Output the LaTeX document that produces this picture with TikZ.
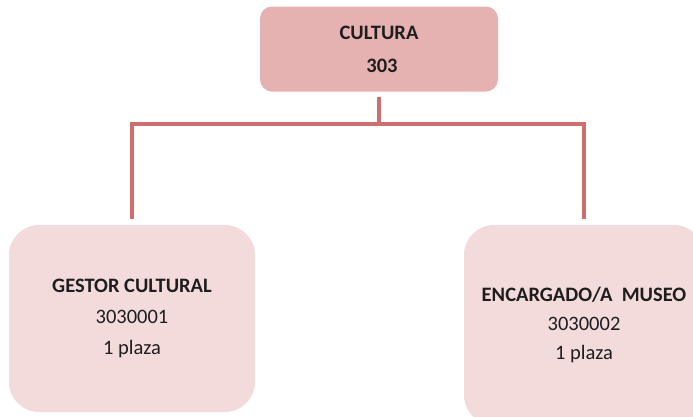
\documentclass[tikz,border=0pt]{standalone}
\usepackage{fontspec}
\setmainfont{Carlito}
\definecolor{topfill}{HTML}{E5B1B1}
\definecolor{subfill}{HTML}{F2DBDA}
\definecolor{connc}{HTML}{CF6E6E}
\definecolor{txt}{HTML}{1E1E1E}
\begin{document}
\begin{tikzpicture}[x=1pt,y=-1pt,
  topbox/.style={fill=topfill, draw=none, rounded corners=12pt, minimum width=238pt, minimum height=85pt, inner sep=0pt, align=center, text=txt, font=\fontsize{20.5}{33}\selectfont},
  subbox/.style={fill=subfill, draw=none, rounded corners=30pt, minimum width=246pt, minimum height=187pt, inner sep=0pt, align=center, text=txt, font=\fontsize{20.5}{31}\selectfont},
  conn/.style={draw=connc, line width=4pt}]
\useasboundingbox (0,0) rectangle (693,416);
\node[topbox] (top) at (379,49) {\textbf{CULTURA}\\\hspace*{6pt}\textbf{303}};
\node[subbox] (left) at (132,318.5) {\textbf{GESTOR CULTURAL}\\3030001\\1 plaza};
\node[subbox, minimum width=240pt, minimum height=200pt, font=\fontsize{20.5}{29}\selectfont] (right) at (584,325) {\textbf{ENCARGADO/A\ \ MUSEO}\\3030002\\1 plaza};
\coordinate (j) at (379,124);
\draw[conn, shorten <=5pt] (top.south) -- (j);
\draw[conn, shorten >=6pt] (j) -| (left.north);
\draw[conn, shorten >=6pt] (j) -| (right.north);
\end{tikzpicture}
\end{document}
